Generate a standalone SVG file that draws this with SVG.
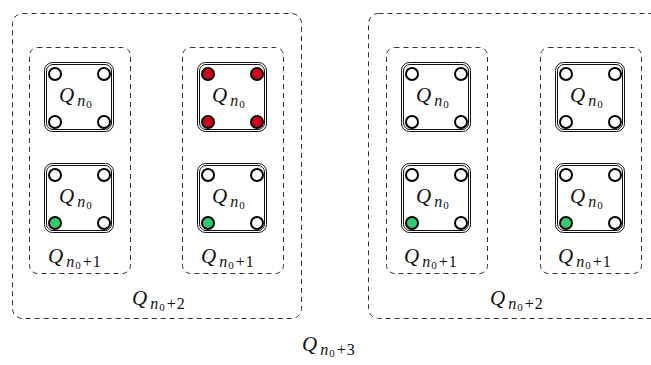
<svg xmlns="http://www.w3.org/2000/svg" xmlns:xlink="http://www.w3.org/1999/xlink" width="651" height="365" viewBox="0 0 651 365">
<style>
.dash{fill:none;stroke:#333;stroke-width:1;stroke-dasharray:5 4}
.frame{fill:#fff;stroke:#111;stroke-width:1}
.frin{fill:none;stroke:#111;stroke-width:1}
.dot{fill:#fff;stroke:#000;stroke-width:2}
.red{fill:#d5001a}
.green{fill:#2ecc71}
.lbl{font-family:"Liberation Serif","DejaVu Serif",serif;font-style:italic;font-size:21px;fill:#111}
.sub{font-size:16px}
.up{font-style:normal}
.upsub{font-style:normal;font-size:11px}
</style>
<defs>
<g id="box">
<rect class="frame" x="0.5" y="0.5" width="69" height="69" rx="8"/>
<rect class="frin" x="2.5" y="2.5" width="65" height="65" rx="6.5"/>
<text class="lbl" x="15" y="40">Q<tspan class="sub" dx="3" dy="4">n</tspan><tspan class="upsub" dx="1" dy="2">0</tspan></text>
</g>
</defs>
<g id="outer-left"><rect class="dash" x="12.5" y="13.5" width="289" height="305" rx="10"/><text class="lbl" x="132" y="305">Q<tspan class="sub" dx="3" dy="4">n</tspan><tspan class="upsub" dx="1" dy="2">0</tspan><tspan class="sub up" dx="2" dy="-2">+</tspan><tspan class="sub up" dx="1">2</tspan></text></g>
<g id="outer-right"><rect class="dash" x="368.5" y="13.5" width="300" height="305" rx="10"/><text class="lbl" x="490" y="305">Q<tspan class="sub" dx="3" dy="4">n</tspan><tspan class="upsub" dx="1" dy="2">0</tspan><tspan class="sub up" dx="2" dy="-2">+</tspan><tspan class="sub up" dx="1">2</tspan></text></g>
<g id="group1"><rect class="dash" x="29.5" y="47.5" width="101" height="226" rx="8"/><text class="lbl" x="48" y="263">Q<tspan class="sub" dx="3" dy="4">n</tspan><tspan class="upsub" dx="1" dy="2">0</tspan><tspan class="sub up" dx="2" dy="-2">+</tspan><tspan class="sub up" dx="1">1</tspan></text></g>
<g id="group2"><rect class="dash" x="182.5" y="47.5" width="101" height="226" rx="8"/><text class="lbl" x="201" y="263">Q<tspan class="sub" dx="3" dy="4">n</tspan><tspan class="upsub" dx="1" dy="2">0</tspan><tspan class="sub up" dx="2" dy="-2">+</tspan><tspan class="sub up" dx="1">1</tspan></text></g>
<g id="group3"><rect class="dash" x="386.5" y="47.5" width="101" height="226" rx="8"/><text class="lbl" x="404" y="263">Q<tspan class="sub" dx="3" dy="4">n</tspan><tspan class="upsub" dx="1" dy="2">0</tspan><tspan class="sub up" dx="2" dy="-2">+</tspan><tspan class="sub up" dx="1">1</tspan></text></g>
<g id="group4"><rect class="dash" x="540.5" y="47.5" width="101" height="226" rx="8"/><text class="lbl" x="558" y="263">Q<tspan class="sub" dx="3" dy="4">n</tspan><tspan class="upsub" dx="1" dy="2">0</tspan><tspan class="sub up" dx="2" dy="-2">+</tspan><tspan class="sub up" dx="1">1</tspan></text></g>

<g id="q1a" transform="translate(44,62)"><use xlink:href="#box"/><circle class="dot" cx="11" cy="12" r="6"/><circle class="dot" cx="60" cy="12" r="6"/><circle class="dot" cx="11" cy="60" r="6"/><circle class="dot" cx="60" cy="60" r="6"/></g>
<g id="q1b" transform="translate(44,163)"><use xlink:href="#box"/><circle class="dot" cx="11" cy="12" r="6"/><circle class="dot" cx="60" cy="12" r="6"/><circle class="dot green" cx="11" cy="60" r="6"/><circle class="dot" cx="60" cy="60" r="6"/></g>
<g id="q2a" transform="translate(197,62)"><use xlink:href="#box"/><circle class="dot red" cx="11" cy="12" r="6"/><circle class="dot red" cx="60" cy="12" r="6"/><circle class="dot red" cx="11" cy="60" r="6"/><circle class="dot red" cx="60" cy="60" r="6"/></g>
<g id="q2b" transform="translate(197,163)"><use xlink:href="#box"/><circle class="dot" cx="11" cy="12" r="6"/><circle class="dot" cx="60" cy="12" r="6"/><circle class="dot green" cx="11" cy="60" r="6"/><circle class="dot" cx="60" cy="60" r="6"/></g>
<g id="q3a" transform="translate(401,62)"><use xlink:href="#box"/><circle class="dot" cx="11" cy="12" r="6"/><circle class="dot" cx="60" cy="12" r="6"/><circle class="dot" cx="11" cy="60" r="6"/><circle class="dot" cx="60" cy="60" r="6"/></g>
<g id="q3b" transform="translate(401,163)"><use xlink:href="#box"/><circle class="dot" cx="11" cy="12" r="6"/><circle class="dot" cx="60" cy="12" r="6"/><circle class="dot green" cx="11" cy="60" r="6"/><circle class="dot" cx="60" cy="60" r="6"/></g>
<g id="q4a" transform="translate(555,62)"><use xlink:href="#box"/><circle class="dot" cx="11" cy="12" r="6"/><circle class="dot" cx="60" cy="12" r="6"/><circle class="dot" cx="11" cy="60" r="6"/><circle class="dot" cx="60" cy="60" r="6"/></g>
<g id="q4b" transform="translate(555,163)"><use xlink:href="#box"/><circle class="dot" cx="11" cy="12" r="6"/><circle class="dot" cx="60" cy="12" r="6"/><circle class="dot green" cx="11" cy="60" r="6"/><circle class="dot" cx="60" cy="60" r="6"/></g>

<g id="top-label"><text class="lbl" x="302" y="351">Q<tspan class="sub" dx="3" dy="4">n</tspan><tspan class="upsub" dx="1" dy="2">0</tspan><tspan class="sub up" dx="2" dy="-2">+</tspan><tspan class="sub up" dx="1">3</tspan></text></g>
<g id="connectors"/>
</svg>
